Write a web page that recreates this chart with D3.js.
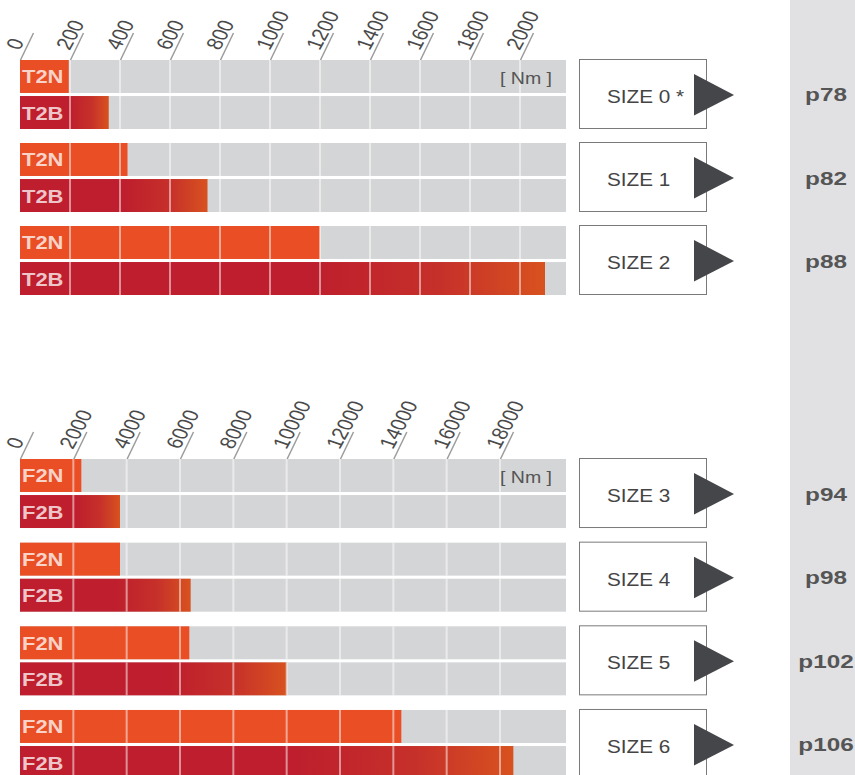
<!DOCTYPE html>
<html>
<head>
<meta charset="utf-8">
<script src="https://cdn.jsdelivr.net/npm/d3@7"></script>
<style>
  body { margin: 0; background: #fff; }
  text { font-family: "Liberation Sans", Arial, sans-serif; }
</style>
</head>
<body>
<div id="chart"></div>
<script>
// torque chart data

let topSizes = ["SIZE 0 *", "SIZE 1", "SIZE 2"];
let topPages = ["p78", "p82", "p88"];
let t2nValues = [195, 430, 1200];
let t2bValues = [355, 750, 2100];
let topTicks = [0, 200, 400, 600, 800, 1000, 1200, 1400, 1600, 1800, 2000];

let bottomSizes = ["SIZE 3", "SIZE 4", "SIZE 5", "SIZE 6"];
let bottomPages = ["p94", "p98", "p102", "p106"];
let f2nValues = [2300, 3750, 6350, 14300];
let f2bValues = [3750, 6400, 10000, 18500];
let bottomTicks = [0, 2000, 4000, 6000, 8000, 10000, 12000, 14000, 16000, 18000];

let unitLabel = "[ Nm ]";

var svgWidth = 855;
var svgHeight = 775;

let trackStart = 20;
let trackEnd = 566;

let svg = d3.select("#chart")
  .append("svg")
  .attr("width", svgWidth)
  .attr("height", svgHeight);

// gradient for the B bars (red fading to orange at the tip)
let grad = svg.append("defs").append("linearGradient")
  .attr("id", "fade")
  .attr("x1", "0").attr("x2", "1").attr("y1", "0").attr("y2", "0");
grad.append("stop").attr("offset", "0").attr("stop-color", "#be1e2d");
grad.append("stop").attr("offset", "0.55").attr("stop-color", "#be1e2d");
grad.append("stop").attr("offset", "0.8").attr("stop-color", "#c6302a");
grad.append("stop").attr("offset", "1").attr("stop-color", "#d8521f");

// grey column on the right
svg.append("rect")
  .attr("x", 790)
  .attr("y", 0)
  .attr("width", svgWidth - 790)
  .attr("height", svgHeight)
  .attr("fill", "#e1e1e3");

function drawPanel(o) {
  let xScale = d3.scaleLinear()
    .domain([0, o.ticks[o.ticks.length - 1]])
    .range([trackStart, o.lastTickX]);

  let yScale = d3.scaleBand()
    .domain(o.sizes)
    .range(o.yRange)
    .paddingInner(o.pad);

  let subScale = d3.scaleBand()
    .domain(["N", "B"])
    .range([0, yScale.bandwidth()])
    .paddingInner(0.085);

  let rows = o.sizes.map((s, i) => ({ size: s, page: o.pages[i], N: o.nVals[i], B: o.bVals[i] }));
  let bars = [];
  rows.forEach(r => {
    ["N", "B"].forEach(k => bars.push({ size: r.size, key: k, value: r[k] }));
  });

  let g = svg.append("g");

  // grey tracks
  g.selectAll(".track")
    .data(bars)
    .enter()
    .append("rect")
    .attr("x", trackStart)
    .attr("y", d => yScale(d.size) + subScale(d.key))
    .attr("width", trackEnd - trackStart)
    .attr("height", subScale.bandwidth())
    .attr("fill", "#d4d5d7");

  // value bars
  g.selectAll(".bar")
    .data(bars)
    .enter()
    .append("rect")
    .attr("x", trackStart)
    .attr("y", d => yScale(d.size) + subScale(d.key))
    .attr("width", d => xScale(d.value) - trackStart)
    .attr("height", subScale.bandwidth())
    .attr("fill", d => d.key == "N" ? "#e94e24" : "url(#fade)");

  // grid lines over the bars
  let gridTicks = o.ticks.filter(t => t > 0);
  bars.forEach(b => {
    let y0 = yScale(b.size) + subScale(b.key);
    g.selectAll(null)
      .data(gridTicks)
      .enter()
      .append("line")
      .attr("x1", d => xScale(d))
      .attr("x2", d => xScale(d))
      .attr("y1", y0)
      .attr("y2", y0 + subScale.bandwidth())
      .attr("stroke", "#fff")
      .attr("stroke-opacity", 0.5)
      .attr("stroke-width", 2);
  });

  // bar names
  g.selectAll(".name")
    .data(bars)
    .enter()
    .append("text")
    .attr("transform", d => `translate(22, ${yScale(d.size) + subScale(d.key) + subScale.bandwidth() / 2 + 7}) scale(1.22,1)`)
    .attr("font-size", "18px")
    .attr("font-weight", "bold")
    .attr("fill", "#fff")
    .attr("fill-opacity", 0.75)
    .text(d => d.key == "N" ? o.nLabel : o.bLabel);

  // unit
  g.append("text")
    .attr("transform", `translate(552, ${yScale(o.sizes[0]) + subScale.bandwidth() / 2 + 8}) scale(1.15,1)`)
    .attr("text-anchor", "end")
    .attr("font-size", "17px")
    .attr("fill", "#555")
    .text(unitLabel);

  // slanted axis on top
  let axisG = g.append("g")
    .attr("transform", `translate(0, ${o.yRange[0]})`)
    .call(d3.axisTop(xScale).tickValues(o.ticks).tickSize(0).tickPadding(0).tickFormat(d3.format("d")));
  axisG.select(".domain").remove();
  axisG.selectAll(".tick line")
    .attr("x1", 0).attr("y1", 0)
    .attr("x2", 13).attr("y2", -27)
    .attr("stroke", "#9c9c9c")
    .attr("stroke-width", 1.5);
  axisG.selectAll(".tick text")
    .attr("y", 0)
    .attr("dy", 0)
    .attr("text-anchor", "start")
    .attr("transform", "translate(-1,-9) scale(1.25,1) rotate(-66)")
    .attr("font-size", "18px")
    .attr("font-family", "Liberation Sans, Arial, sans-serif")
    .attr("fill", "#4a4a4a");

  // size boxes with arrows
  g.selectAll(".box")
    .data(rows)
    .enter()
    .append("rect")
    .attr("x", 579.5)
    .attr("y", d => yScale(d.size) - 0.5)
    .attr("width", 127)
    .attr("height", yScale.bandwidth())
    .attr("fill", "#fff")
    .attr("stroke", "#7a7a7a")
    .attr("stroke-width", 1);

  g.selectAll(".sizeText")
    .data(rows)
    .enter()
    .append("text")
    .attr("transform", d => `translate(607, ${yScale(d.size) + yScale.bandwidth() / 2 + 8.5}) scale(1.15,1)`)
    .attr("font-size", "18px")
    .attr("fill", "#444")
    .text(d => d.size);

  g.selectAll(".arrow")
    .data(rows)
    .enter()
    .append("path")
    .attr("d", d => {
      let cy = yScale(d.size) + yScale.bandwidth() / 2;
      return `M694,${cy - 20.5}L734,${cy + 0.5}L694,${cy + 21}Z`;
    })
    .attr("fill", "#45464a");

  // page refs
  g.selectAll(".page")
    .data(rows)
    .enter()
    .append("text")
    .attr("transform", d => `translate(826, ${yScale(d.size) + yScale.bandwidth() / 2 + 7}) scale(1.35,1)`)
    .attr("text-anchor", "middle")
    .attr("font-size", "18px")
    .attr("font-weight", "bold")
    .attr("fill", "#555")
    .text(d => d.page);
}

drawPanel({
  sizes: topSizes,
  pages: topPages,
  nVals: t2nValues,
  bVals: t2bValues,
  ticks: topTicks,
  lastTickX: 520,
  yRange: [60, 295],
  pad: 0.1687,
  nLabel: "T2N",
  bLabel: "T2B"
});

drawPanel({
  sizes: bottomSizes,
  pages: bottomPages,
  nVals: f2nValues,
  bVals: f2bValues,
  ticks: bottomTicks,
  lastTickX: 500,
  yRange: [459, 779],
  pad: 0.175,
  nLabel: "F2N",
  bLabel: "F2B"
});
</script>
</body>
</html>
